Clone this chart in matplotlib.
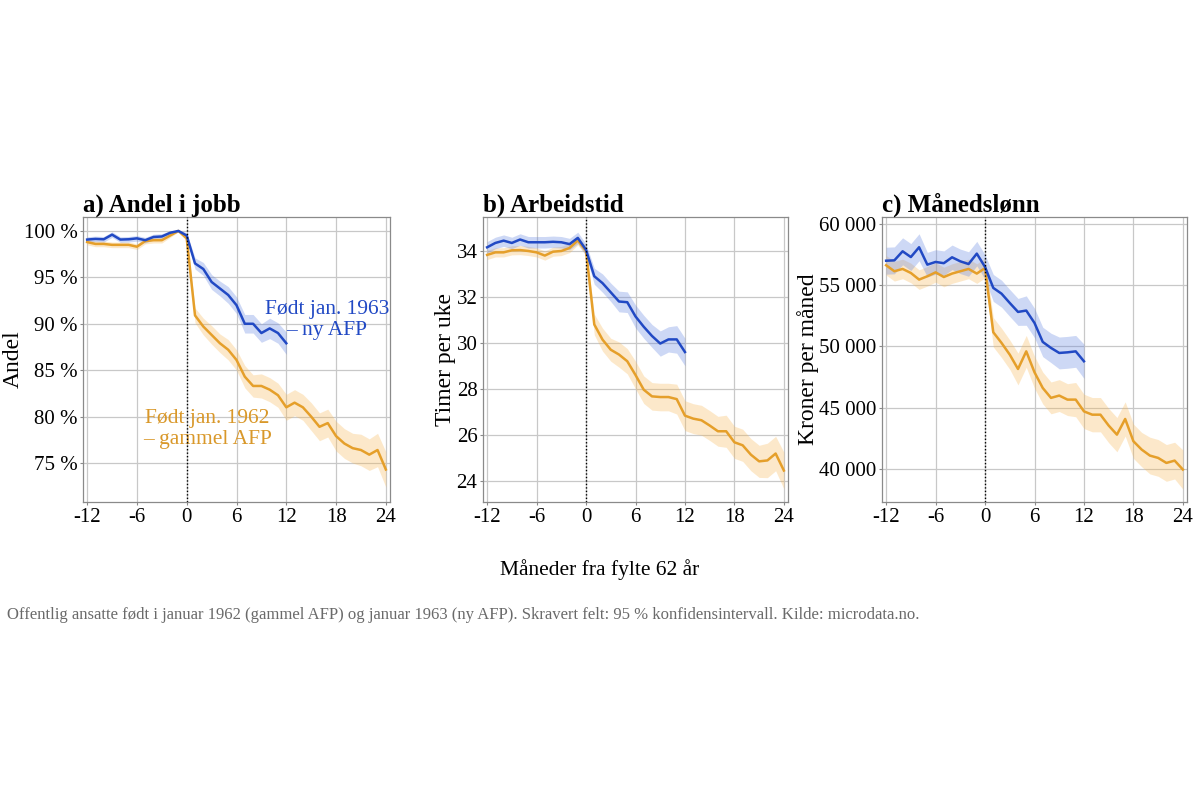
import matplotlib
matplotlib.use("Agg")
import matplotlib.pyplot as plt
import numpy as np
from matplotlib.ticker import FuncFormatter

plt.rcParams['font.family'] = ['Liberation Serif', 'DejaVu Serif']

months_62 = list(range(-12, 25))
months_63 = list(range(-12, 13))

# a) Andel i jobb (%)
andel_63 = [99.07, 99.14, 99.1, 99.6, 99.07, 99.1, 99.2, 99.0, 99.35, 99.4, 99.8, 100.0, 99.5,
            96.5, 95.9, 94.5, 93.8, 93.1, 92.0, 90.0, 90.0, 89.0, 89.5, 89.0, 87.9]
andel_62 = [98.8, 98.6, 98.6, 98.5, 98.5, 98.5, 98.3, 98.9, 99.0, 99.0, 99.5, 100.0, 99.2,
            90.9, 89.7, 88.8, 87.9, 87.2, 86.1, 84.3, 83.3, 83.3, 82.9, 82.3, 81.0,
            81.5, 81.0, 80.0, 78.9, 79.3, 77.9, 77.1, 76.6, 76.4, 75.9, 76.4, 74.3]
andel_63_ci = [0.3, 0.3, 0.3, 0.3, 0.3, 0.3, 0.3, 0.3, 0.3, 0.3, 0.2, 0.1, 0.3,
               0.6, 0.7, 0.8, 0.8, 0.9, 0.9, 1.0, 1.0, 1.0, 1.1, 1.1, 1.2]
andel_62_ci = [0.3, 0.3, 0.3, 0.3, 0.3, 0.3, 0.3, 0.3, 0.3, 0.3, 0.2, 0.1, 0.3,
               0.8, 0.9, 1.0, 1.0, 1.1, 1.1, 1.2, 1.2, 1.3, 1.3, 1.3, 1.4,
               1.4, 1.4, 1.5, 1.5, 1.5, 1.6, 1.6, 1.6, 1.7, 1.7, 1.8, 1.9]

# b) Arbeidstid (timer per uke)
timer_63 = [34.16, 34.35, 34.45, 34.35, 34.5, 34.38, 34.38, 34.38, 34.4, 34.38, 34.3, 34.57, 34.05,
            32.9, 32.6, 32.2, 31.8, 31.77, 31.15, 30.7, 30.3, 29.97, 30.15, 30.15, 29.6]
timer_62 = [33.83, 33.94, 33.94, 34.03, 34.04, 34.0, 33.94, 33.8, 33.97, 34.0, 34.13, 34.46, 34.0,
            30.8, 30.14, 29.7, 29.49, 29.2, 28.6, 27.96, 27.67, 27.64, 27.64, 27.55, 26.83,
            26.7, 26.63, 26.4, 26.15, 26.15, 25.67, 25.54, 25.13, 24.84, 24.88, 25.18, 24.44]
timer_63_ci = [0.25, 0.25, 0.25, 0.25, 0.25, 0.25, 0.25, 0.25, 0.25, 0.25, 0.25, 0.25, 0.25,
               0.35, 0.4, 0.4, 0.45, 0.45, 0.5, 0.5, 0.5, 0.55, 0.55, 0.6, 0.6]
timer_62_ci = [0.2, 0.2, 0.2, 0.2, 0.2, 0.2, 0.2, 0.2, 0.2, 0.2, 0.2, 0.2, 0.2,
               0.45, 0.5, 0.5, 0.55, 0.55, 0.6, 0.6, 0.6, 0.6, 0.6, 0.65, 0.65,
               0.65, 0.65, 0.65, 0.65, 0.7, 0.7, 0.7, 0.7, 0.7, 0.75, 0.75, 0.8]

# c) Månedslønn (kroner per måned)
lonn_63 = [57000, 57030, 57770, 57300, 58100, 56680, 56900, 56800, 57280, 56950, 56730, 57580, 56490,
           54780, 54310, 53550, 52820, 52930, 51920, 50370, 49880, 49470, 49520, 49600, 48790]
lonn_62 = [56630, 56140, 56330, 56000, 55460, 55730, 56050, 55670, 55950, 56140, 56330, 55950, 56400,
           51160, 50290, 49330, 48160, 49600, 47890, 46610, 45800, 45990, 45660, 45660, 44700,
           44430, 44430, 43540, 42800, 44080, 42260, 41580, 41090, 40900, 40490, 40680, 39950]
lonn_63_ci = [1100, 1100, 1100, 1100, 1100, 1000, 1000, 1000, 1000, 1000, 1000, 1000, 1000,
              1100, 1100, 1100, 1100, 1200, 1200, 1200, 1200, 1300, 1300, 1300, 1400]
lonn_62_ci = [800, 800, 800, 800, 800, 800, 800, 800, 800, 800, 800, 800, 800,
              1200, 1200, 1200, 1300, 1300, 1300, 1300, 1300, 1300, 1300, 1400, 1400,
              1400, 1400, 1400, 1400, 1400, 1400, 1400, 1500, 1500, 1500, 1500, 1600]

titles = ["a) Andel i jobb", "b) Arbeidstid", "c) Månedslønn"]
ylabels = ["Andel", "Timer per uke", "Kroner per måned"]
xticks = [-12, -6, 0, 6, 12, 18, 24]

BLUE = "#2149c4"
ORANGE = "#e59f2a"
BLUE_F = "#5b7fe0"
ORANGE_F = "#f8b650"

fig = plt.figure(figsize=(12, 8), dpi=100)
W, H = 1200, 800
boxes = [(83, 217, 390, 502), (483, 217, 788, 502), (882, 217, 1187, 502)]
ylims = [(70.8, 101.5), (23.07, 35.48), (37300, 60570)]
yticks = [[75, 80, 85, 90, 95, 100], [24, 26, 28, 30, 32, 34], [40000, 45000, 50000, 55000, 60000]]
fmts = [lambda v, p: f"{v:.0f} %",
        lambda v, p: f"{v:.0f}",
        lambda v, p: f"{int(v):,}".replace(",", " ")]

data = [(andel_63, andel_63_ci, andel_62, andel_62_ci),
        (timer_63, timer_63_ci, timer_62, timer_62_ci),
        (lonn_63, lonn_63_ci, lonn_62, lonn_62_ci)]

for i, (l, t, r, b) in enumerate(boxes):
    ax = fig.add_axes([l / W, 1 - b / H, (r - l) / W, (b - t) / H])
    y63, c63, y62, c62 = [np.array(d, dtype=float) for d in data[i]]
    x63 = np.array(months_63)
    x62 = np.array(months_62)
    ax.fill_between(x62, y62 - c62, y62 + c62, color=ORANGE_F, alpha=0.3, lw=0, zorder=2)
    ax.fill_between(x63, y63 - c63, y63 + c63, color=BLUE_F, alpha=0.3, lw=0, zorder=2)
    ax.plot(x62, y62, color=ORANGE, lw=1.8, zorder=4)
    ax.plot(x63, y63, color=BLUE, lw=1.8, zorder=4)
    ax.axvline(0, color="black", lw=1.0, ls=(0, (1, 1.5)), zorder=5)
    ax.set_xlim(-12.5, 24.5)
    ax.set_ylim(*ylims[i])
    ax.set_xticks(xticks)
    ax.set_xticklabels([str(v) for v in xticks])
    ax.set_yticks(yticks[i])
    ax.yaxis.set_major_formatter(FuncFormatter(fmts[i]))
    ax.grid(True, color="#c8c8c8", lw=0.9, zorder=0)
    ax.set_axisbelow(True)
    for s in ax.spines.values():
        s.set_color("#8a8a8a")
        s.set_linewidth(0.9)
    ax.tick_params(axis="both", labelsize=15, length=2, color="#8a8a8a", pad=2)
    ax.set_ylabel(ylabels[i], fontsize=17, labelpad=0)
    ax.set_title(titles[i], fontsize=18, fontweight="bold", loc="left", pad=4)
    if i == 0:
        ax.text(16.9, 90.4, "Født jan. 1963\n– ny AFP", color=BLUE, fontsize=15.5,
                ha="center", va="center", linespacing=1.15)
        ax.text(2.5, 78.7, "Født jan. 1962\n– gammel AFP", color="#d9982a", fontsize=15.5,
                ha="center", va="center", linespacing=1.15)

fig.text(600 / W, 1 - 570 / H, "Måneder fra fylte 62 år", ha="center", va="center", fontsize=15.5)
fig.text(7 / W, 1 - 615 / H,
         "Offentlig ansatte født i januar 1962 (gammel AFP) og januar 1963 (ny AFP). Skravert felt: 95 % konfidensintervall. Kilde: microdata.no.",
         ha="left", va="center", fontsize=12, color="#6a6a6a")

fig.savefig("out.png", dpi=100, facecolor="white")
